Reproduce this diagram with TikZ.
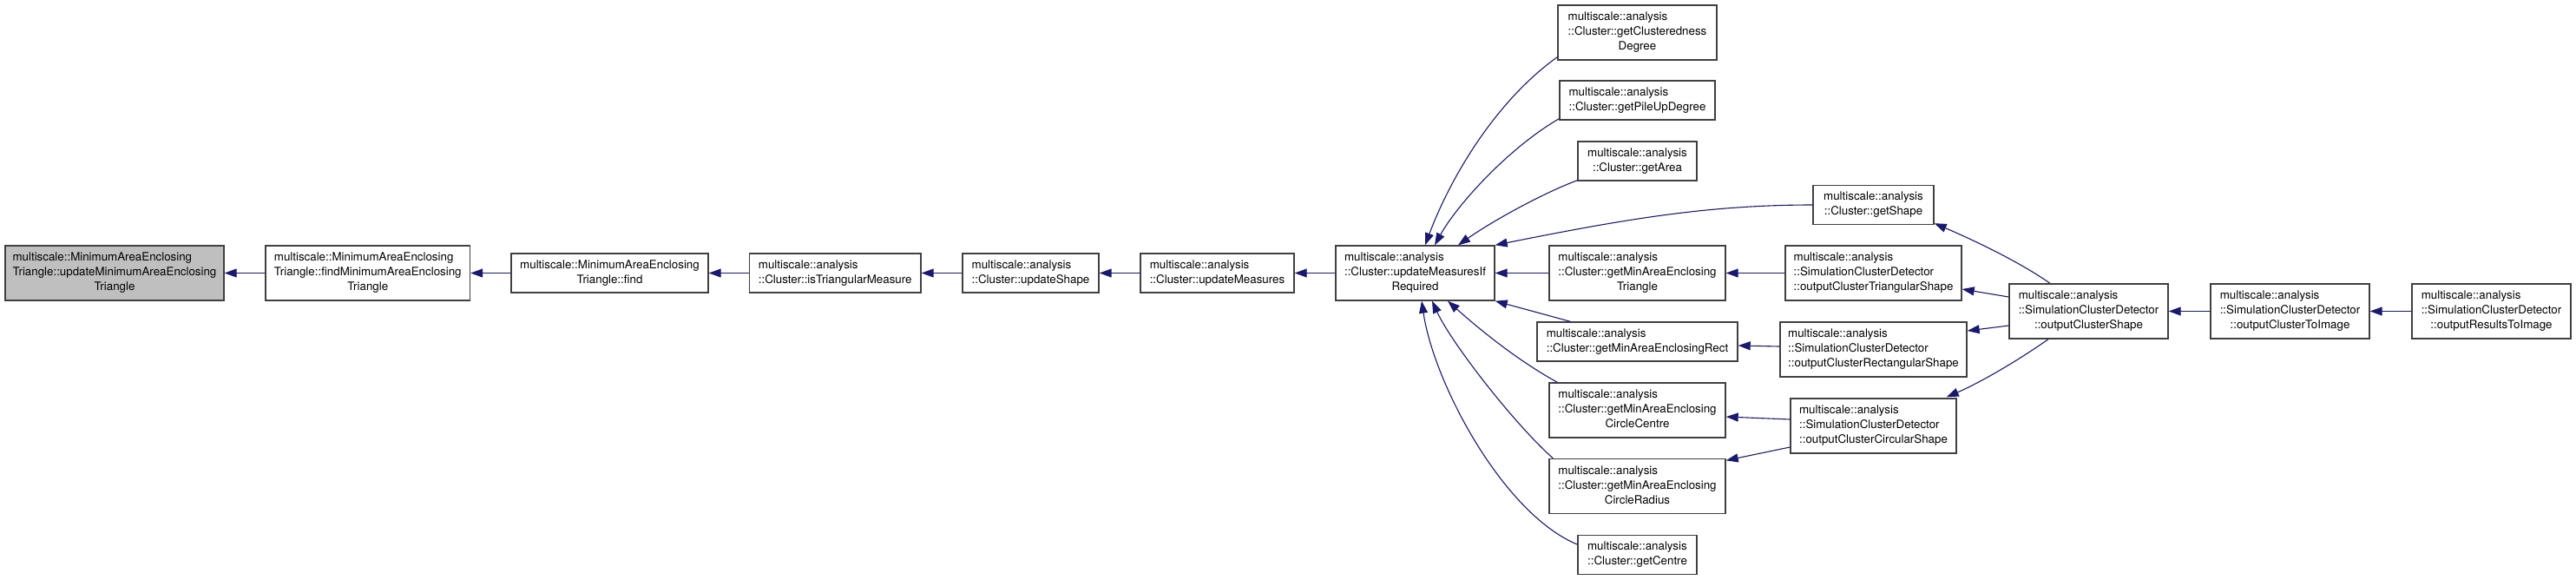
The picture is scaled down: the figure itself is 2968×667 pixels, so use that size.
\documentclass[tikz,border=0pt]{standalone}
\usepackage{fontspec}
\setmainfont{TeX Gyre Heros}
\usetikzlibrary{arrows.meta,calc}
\definecolor{edgeblue}{HTML}{191970}
\definecolor{boxline}{HTML}{404040}
\definecolor{boxfill}{HTML}{BFBFBF}
\newcommand{\dxl}[2]{\begin{tabular}{@{}l@{}}#1\\\multicolumn{1}{@{}c@{}}{#2}\end{tabular}}
\begin{document}
\begin{tikzpicture}[x=1pt,y=-1pt,
  font=\fontsize{13.33}{17}\selectfont,
  box/.style={draw=boxline, line width=1.4pt, fill=white, inner sep=0pt},
  calledge/.style={draw=edgeblue, line width=1.1pt, -{Triangle[length=14pt,width=10pt]}}]
\useasboundingbox (0,0) rectangle (2968,667);
% nodes
\node[box, fill=boxfill, minimum width=252pt, minimum height=63pt] (A) at (132,314.5) {\dxl{multiscale::MinimumAreaEnclosing\\Triangle::updateMinimumAreaEnclosing}{Triangle}};
\node[box, minimum width=235.5pt, minimum height=63pt] (B) at (423.75,314.5) {\dxl{multiscale::MinimumAreaEnclosing\\Triangle::findMinimumAreaEnclosing}{Triangle}};
\node[box, minimum width=227pt, minimum height=45pt] (C) at (702.5,314.5) {\dxl{multiscale::MinimumAreaEnclosing}{Triangle::find}};
\node[box, minimum width=197.5pt, minimum height=45pt] (D) at (962.25,314.5) {\dxl{multiscale::analysis}{::Cluster::isTriangularMeasure}};
\node[box, minimum width=157pt, minimum height=45pt] (E) at (1187.5,314.5) {\dxl{multiscale::analysis}{::Cluster::updateShape}};
\node[box, minimum width=177pt, minimum height=45pt] (F) at (1402.5,314.5) {\dxl{multiscale::analysis}{::Cluster::updateMeasures}};
\node[box, minimum width=183pt, minimum height=63pt] (G) at (1630.5,314.5) {\dxl{multiscale::analysis\\::Cluster::updateMeasuresIf}{Required}};
\node[box, minimum width=183pt, minimum height=63pt] (H) at (1886.5,37.5) {\dxl{multiscale::analysis\\::Cluster::getClusteredness}{Degree}};
\node[box, minimum width=179pt, minimum height=45pt] (I) at (1886.5,115.5) {\dxl{multiscale::analysis}{::Cluster::getPileUpDegree}};
\node[box, minimum width=137pt, minimum height=45pt] (J) at (1886.5,185.5) {\dxl{multiscale::analysis}{::Cluster::getArea}};
\node[box, minimum width=203pt, minimum height=63pt] (K) at (1886.5,314.5) {\dxl{multiscale::analysis\\::Cluster::getMinAreaEnclosing}{Triangle}};
\node[box, minimum width=231pt, minimum height=45pt] (L) at (1886.5,393.5) {\dxl{multiscale::analysis}{::Cluster::getMinAreaEnclosingRect}};
\node[box, minimum width=203pt, minimum height=63pt] (M) at (1886.5,472.5) {\dxl{multiscale::analysis\\::Cluster::getMinAreaEnclosing}{CircleCentre}};
\node[box, minimum width=203pt, minimum height=63pt] (N) at (1886.5,560) {\dxl{multiscale::analysis\\::Cluster::getMinAreaEnclosing}{CircleRadius}};
\node[box, minimum width=137pt, minimum height=45pt] (O) at (1886.5,639) {\dxl{multiscale::analysis}{::Cluster::getCentre}};
\node[box, minimum width=139pt, minimum height=45pt] (P) at (2158.5,236) {\dxl{multiscale::analysis}{::Cluster::getShape}};
\node[box, minimum width=203pt, minimum height=63pt] (Q) at (2158.5,314.5) {\dxl{multiscale::analysis\\::SimulationClusterDetector}{::outputClusterTriangularShape}};
\node[box, minimum width=215pt, minimum height=63pt] (R) at (2158.5,402.5) {\dxl{multiscale::analysis\\::SimulationClusterDetector}{::outputClusterRectangularShape}};
\node[box, minimum width=191pt, minimum height=63pt] (S) at (2158.5,490.5) {\dxl{multiscale::analysis\\::SimulationClusterDetector}{::outputClusterCircularShape}};
\node[box, minimum width=183pt, minimum height=63pt] (T) at (2406.5,358.5) {\dxl{multiscale::analysis\\::SimulationClusterDetector}{::outputClusterShape}};
\node[box, minimum width=183pt, minimum height=63pt] (U) at (2638.5,358.5) {\dxl{multiscale::analysis\\::SimulationClusterDetector}{::outputClusterToImage}};
\node[box, minimum width=183pt, minimum height=63pt] (V) at (2870.5,358.5) {\dxl{multiscale::analysis\\::SimulationClusterDetector}{::outputResultsToImage}};
% main chain
\draw[calledge] (B) -- (A);
\draw[calledge] (C) -- (B);
\draw[calledge] (D) -- (C);
\draw[calledge] (E) -- (D);
\draw[calledge] (F) -- (E);
\draw[calledge] (G) -- (F);
\draw[calledge] (K) -- (G);
\draw[calledge] (Q) -- (K);
\draw[calledge] (U) -- (T);
\draw[calledge] (V) -- (U);
% into G
\draw[calledge] ($(H.south west)+(0,-4)$) .. controls +(-70,50) and +(30,-80) .. ($(G.north)+(11.5,0)$);
\draw[calledge] ($(I.south west)+(0,-2)$) .. controls +(-60,35) and +(25,-45) .. ($(G.north)+(22.5,0)$);
\draw[calledge] ($(J.south west)+(0,-1)$) .. controls +(-40,15) and +(40,-28) .. ($(G.north)+(49.5,0)$);
\draw[calledge] (P.west) .. controls +(-120,0) and +(150,-30) .. (G.north east);
\draw[calledge] ($(L.north west)+(39,0)$) -- (G.south east);
\draw[calledge] ($(M.north west)+(10,0)$) .. controls +(-40,-22) and +(45,40) .. ($(G.south)+(37.5,0)$);
\draw[calledge] ($(N.north west)+(5,0)$) .. controls +(-45,-40) and +(22,48) .. ($(G.south)+(19.5,0)$);
\draw[calledge] ($(O.west)+(0,-12)$) .. controls +(-85,-35) and +(14,95) .. ($(G.south)+(7.5,0)$);
% right part
\draw[calledge] ($(R.west)+(0,-3.5)$) -- ($(L.east)+(0,4.5)$);
\draw[calledge] ($(S.west)+(0,-7.5)$) -- ($(M.east)+(0,7.5)$);
\draw[calledge] ($(S.west)+(0,24.5)$) -- ($(N.north east)+(0,2.5)$);
\draw[calledge] ($(T.west)+(0,-16.5)$) -- ($(Q.east)+(0,18.5)$);
\draw[calledge] ($(T.west)+(0,16.5)$) -- ($(R.east)+(0,-21.5)$);
\draw[calledge] ($(T.north)+(-44.5,0)$) .. controls +(-40,-28) and +(35,15) .. ($(P.south east)+(0,-2)$);
\draw[calledge] ($(T.south)+(-46.5,0)$) .. controls +(-40,28) and +(35,-15) .. ($(S.north east)+(-12,-1)$);
\end{tikzpicture}
\end{document}
